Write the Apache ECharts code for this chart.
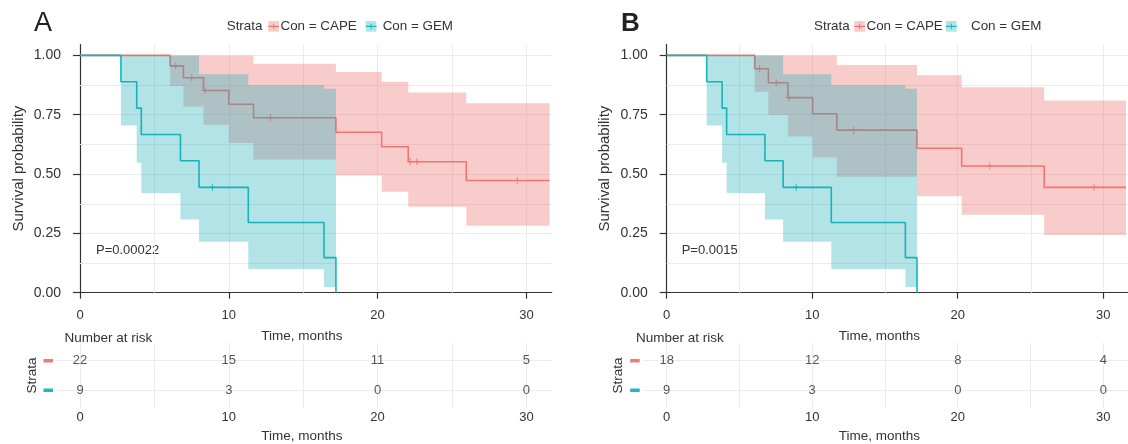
<!DOCTYPE html>
<html><head><meta charset="utf-8">
<script src="https://cdn.jsdelivr.net/npm/echarts@6/dist/echarts.min.js"></script>
<style>html,body{margin:0;padding:0;background:#fff}#c{width:1128px;height:444px}</style>
</head><body><div id="c"></div>
<script>
// ---------- DATA ----------
const xTicks = [0, 10, 20, 30];
const yTicks = [0, 0.25, 0.5, 0.75, 1];
const minorX = [5, 15, 25];
const minorY = [0.125, 0.375, 0.625, 0.875];
const riskTimes = [0, 10, 20, 30];
const A_capeRisk = [22, 15, 11, 5];
const A_gemRisk = [9, 3, 0, 0];
const B_capeRisk = [18, 12, 8, 4];
const B_gemRisk = [9, 3, 0, 0];

// GEM group (same in both panels)
const gemTime  = [0, 2.75, 3.81, 4.12, 6.75, 8.0, 11.31, 16.4, 17.2];
const gemSurv  = [1, 0.889, 0.778, 0.667, 0.556, 0.444, 0.296, 0.148, 0];
const gemUpper = [1, 1, 1, 1, 1, 0.921, 0.875, 0.86, 0.86];
const gemLower = [1, 0.705, 0.548, 0.42, 0.309, 0.215, 0.1, 0.024, 0.024];
const gemCensorT = [8.9];
const gemCensorS = [0.444];

// Panel A, CAPE
const A_capeTime  = [0, 6.06, 6.95, 8.3, 10.0, 11.66, 17.2, 20.27, 22.06, 25.96, 31.56];
const A_capeSurv  = [1, 0.956, 0.906, 0.852, 0.794, 0.737, 0.676, 0.615, 0.552, 0.473, 0.473];
const A_capeUpper = [1, 1, 1, 1, 1, 0.965, 0.93, 0.889, 0.844, 0.798, 0.798];
const A_capeLower = [1, 0.871, 0.785, 0.708, 0.631, 0.561, 0.494, 0.425, 0.362, 0.282, 0.282];
const A_capeCensorT = [6.43, 7.51, 8.4, 12.8, 22.19, 22.64, 29.39];
const A_capeCensorS = [0.956, 0.906, 0.852, 0.737, 0.552, 0.552, 0.473];

// Panel B, CAPE
const B_capeTime  = [0, 6.05, 6.99, 8.33, 10.03, 11.69, 17.2, 20.27, 25.94, 31.56];
const B_capeSurv  = [1, 0.944, 0.885, 0.822, 0.754, 0.685, 0.609, 0.534, 0.444, 0.444];
const B_capeUpper = [1, 1, 1, 1, 1, 0.96, 0.916, 0.866, 0.81, 0.81];
const B_capeLower = [1, 0.847, 0.749, 0.658, 0.57, 0.489, 0.406, 0.329, 0.243, 0.243];
const B_capeCensorT = [6.38, 7.53, 8.4, 12.84, 22.2, 29.37];
const B_capeCensorS = [0.944, 0.885, 0.822, 0.685, 0.534, 0.444];

// ---------- STYLE ----------
const FONT = "'Liberation Sans', Arial, Helvetica, sans-serif";
const RED = '#F2726C', TEAL = '#17B8BD';
const RED_FILL = 'rgba(238,120,120,0.38)', TEAL_FILL = 'rgba(20,170,180,0.33)';
const GRIDC = '#EBEBEB', AX = '#333', TXT = '#333';
const PLUS = 'path://M4.2,0H5.8V10H4.2Z M0,4.2H10V5.8H0Z';
const XMAX = 31.7, YMAX = 1.046;

const zip = (a, b) => a.map((v, i) => [v, b[i]]);
function bandPts(t, u, l) {
  const p = [];
  for (let i = 0; i < t.length - 1; i++) { p.push([t[i], u[i]], [t[i + 1], u[i]]); }
  for (let i = t.length - 2; i >= 0; i--) { p.push([t[i + 1], l[i]], [t[i], l[i]]); }
  return p;
}

const grids = [
  { left: 80, top: 44.5, width: 471.7, height: 248.2 },
  { left: 666.7, top: 44.5, width: 471.7, height: 248.2 },
  { left: 80, top: 343, width: 471.7, height: 66 },
  { left: 666.7, top: 343, width: 471.7, height: 66 }
];

function mainX(gi, pad) {
  return {
    gridIndex: gi, type: 'value', min: 0, max: XMAX,
    axisLine: { show: true, onZero: false, lineStyle: { color: AX, width: 1.2 } },
    axisTick: { show: true, length: 6, customValues: xTicks, lineStyle: { color: AX, width: 1.2 } },
    axisLabel: { customValues: xTicks, margin: 16, fontSize: 13, color: TXT, fontFamily: FONT },
    splitLine: { show: true, lineStyle: { color: GRIDC, width: 1 } },
    name: 'Time, months', nameLocation: 'middle', nameGap: 37,
    nameTextStyle: { fontSize: 13.5, color: TXT, fontFamily: FONT, padding: [0, pad, 0, 0] }
  };
}
function mainY(gi) {
  return {
    gridIndex: gi, type: 'value', min: 0, max: YMAX,
    axisLine: { show: true, onZero: false, lineStyle: { color: AX, width: 1.2 } },
    axisTick: { show: true, length: 7, customValues: yTicks, lineStyle: { color: AX, width: 1.2 } },
    axisLabel: { customValues: yTicks, margin: 19, fontSize: 14, color: TXT, fontFamily: FONT,
      formatter: v => v.toFixed(2) },
    splitLine: { show: true, lineStyle: { color: GRIDC, width: 1 } },
    name: 'Survival probability', nameLocation: 'middle', nameGap: 54, nameRotate: 90,
    nameTextStyle: { fontSize: 15, color: TXT, fontFamily: FONT }
  };
}
function riskX(gi, pad) {
  return {
    gridIndex: gi, type: 'value', min: 0, max: XMAX,
    axisLine: { show: false }, axisTick: { show: false, customValues: [0, 5, 10, 15, 20, 25, 30] },
    axisLabel: { customValues: xTicks, margin: 3, fontSize: 13, color: TXT, fontFamily: FONT },
    splitLine: { show: true, lineStyle: { color: GRIDC, width: 1 } },
    name: 'Time, months', nameLocation: 'middle', nameGap: 21,
    nameTextStyle: { fontSize: 13.5, color: TXT, fontFamily: FONT, padding: [0, pad, 0, 0] }
  };
}
function riskY(gi) {
  return {
    gridIndex: gi, type: 'value', min: 0.4, max: 2.6,
    axisLine: { show: false },
    axisTick: { show: true, length: 23, customValues: [1, 2], lineStyle: { color: GRIDC, width: 1 } },
    axisLabel: { customValues: [1, 2], margin: 27,
      formatter: v => (v === 2 ? '{r| }' : '{g| }'),
      rich: { r: { backgroundColor: '#F07876', width: 9.5, height: 3.5 },
              g: { backgroundColor: '#1DB9BE', width: 9.5, height: 3.5 } } },
    splitLine: { show: true, lineStyle: { color: GRIDC, width: 1 } },
    name: 'Strata', nameLocation: 'middle', nameGap: 41, nameRotate: 90,
    nameTextStyle: { fontSize: 13.5, color: TXT, fontFamily: FONT }
  };
}

function minorGrid(gi) {
  return {
    type: 'custom', xAxisIndex: gi, yAxisIndex: gi, z: 1, silent: true, data: [[0, 0]],
    renderItem: (params, api) => {
      const kids = [];
      minorX.forEach(x => {
        const a = api.coord([x, 0]), b = api.coord([x, YMAX]);
        kids.push({ type: 'line', shape: { x1: Math.round(a[0]) + 0.5, y1: a[1], x2: Math.round(b[0]) + 0.5, y2: b[1] },
          style: { stroke: GRIDC, lineWidth: 1 } });
      });
      minorY.forEach(y => {
        const a = api.coord([0, y]), b = api.coord([XMAX, y]);
        kids.push({ type: 'line', shape: { x1: a[0], y1: Math.round(a[1]) + 0.5, x2: b[0], y2: Math.round(b[1]) + 0.5 },
          style: { stroke: GRIDC, lineWidth: 1 } });
      });
      return { type: 'group', children: kids };
    }
  };
}
function band(gi, pts, fill) {
  return {
    type: 'custom', xAxisIndex: gi, yAxisIndex: gi, z: 3, silent: true, data: [[0, 0]],
    renderItem: (params, api) => ({
      type: 'polygon', shape: { points: pts.map(p => api.coord(p)) }, style: { fill: fill }
    })
  };
}
function curve(gi, t, s, color) {
  return {
    type: 'line', step: 'end', xAxisIndex: gi, yAxisIndex: gi, z: 2, silent: true,
    data: zip(t, s), showSymbol: false, lineStyle: { color: color, width: 1.6 }
  };
}
function censor(gi, t, s, color) {
  return {
    type: 'scatter', xAxisIndex: gi, yAxisIndex: gi, z: 2, silent: true,
    data: zip(t, s), symbol: PLUS, symbolSize: 7, itemStyle: { color: color }
  };
}
function risk(gi, vals, row) {
  return {
    type: 'scatter', xAxisIndex: gi, yAxisIndex: gi, silent: true,
    data: riskTimes.map((t, i) => [t, row, vals[i]]), symbolSize: 1,
    itemStyle: { color: 'rgba(0,0,0,0)' },
    label: { show: true, position: 'inside', formatter: p => String(p.value[2]),
      fontSize: 13, color: '#2a2a2a', fontFamily: FONT }
  };
}

function txt(x, y, s, size, extra) {
  return { type: 'text', x: x, y: y, silent: true,
    style: Object.assign({ text: s, fontSize: size, fontFamily: FONT, fill: TXT,
      verticalAlign: 'middle', align: 'left' }, extra || {}) };
}
function key(x, lineColor, fill) {
  return [
    { type: 'rect', silent: true, shape: { x: x, y: 21, width: 10.7, height: 10.7 }, style: { fill: fill } },
    { type: 'line', silent: true, shape: { x1: x, y1: 26.4, x2: x + 10.7, y2: 26.4 }, style: { stroke: lineColor, lineWidth: 1.2 } },
    { type: 'line', silent: true, shape: { x1: x + 5.35, y1: 23.6, x2: x + 5.35, y2: 29.2 }, style: { stroke: lineColor, lineWidth: 1 } }
  ];
}

const option = {
  animation: false,
  backgroundColor: '#fff',
  textStyle: { fontFamily: FONT },
  grid: grids,
  xAxis: [mainX(0, 28), mainX(1, 36), riskX(2, 28), riskX(3, 36)],
  yAxis: [mainY(0), mainY(1), riskY(2), riskY(3)],
  series: [
    minorGrid(0),
    curve(0, A_capeTime, A_capeSurv, RED),
    censor(0, A_capeCensorT, A_capeCensorS, RED),
    curve(0, gemTime, gemSurv, TEAL),
    censor(0, gemCensorT, gemCensorS, TEAL),
    band(0, bandPts(A_capeTime, A_capeUpper, A_capeLower), RED_FILL),
    band(0, bandPts(gemTime, gemUpper, gemLower), TEAL_FILL),

    minorGrid(1),
    curve(1, B_capeTime, B_capeSurv, RED),
    censor(1, B_capeCensorT, B_capeCensorS, RED),
    curve(1, gemTime, gemSurv, TEAL),
    censor(1, gemCensorT, gemCensorS, TEAL),
    band(1, bandPts(B_capeTime, B_capeUpper, B_capeLower), RED_FILL),
    band(1, bandPts(gemTime, gemUpper, gemLower), TEAL_FILL),

    risk(2, A_capeRisk, 2), risk(2, A_gemRisk, 1),
    risk(3, B_capeRisk, 2), risk(3, B_gemRisk, 1)
  ],
  graphic: [].concat(
    [txt(34, 24, 'A', 27, { fill: '#222' }),
     txt(621, 24, 'B', 26, { fill: '#222', fontWeight: 'bold' }),
     txt(226.7, 26, 'Strata', 13.4),
     txt(280.5, 26, 'Con = CAPE', 13.4),
     txt(382.7, 26, 'Con = GEM', 13.4),
     txt(814, 26, 'Strata', 13.4),
     txt(866.5, 26, 'Con = CAPE', 13.4),
     txt(971, 26, 'Con = GEM', 13.4),
     txt(96, 250, 'P=0.00022', 13),
     txt(681.7, 250, 'P=0.0015', 13),
     txt(64.5, 338.3, 'Number at risk', 13.5),
     txt(636, 338.3, 'Number at risk', 13.5)],
    key(268.3, RED, RED_FILL), key(365.7, TEAL, TEAL_FILL),
    key(854.3, RED, RED_FILL), key(946, TEAL, TEAL_FILL)
  )
};

const chart = echarts.init(document.getElementById('c'), null, { renderer: 'canvas' });
chart.setOption(option);
</script>
</body></html>
